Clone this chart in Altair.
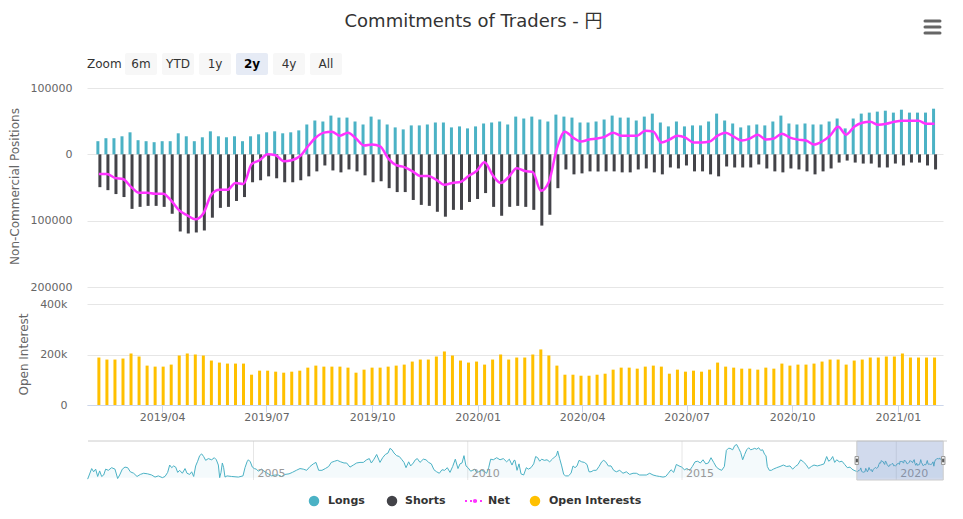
import altair as alt
import pandas as pd

# ---------------- data ----------------
week_start = "2019-02-05"          # weekly COT report dates (Tuesdays)
n_weeks = 105
view_start = "2019-01-30"
view_end = "2021-02-05"

longs_k = [19.8, 24.3, 24.3, 27.2, 33.2, 21.3, 19.8, 18.3, 19.8, 19.8,
           31.7, 27.2, 19.8, 25.7, 34.7, 27.2, 25.7, 27.2, 19.8, 27.2,
           30.2, 33.2, 34.7, 31.7, 33.2, 36.1, 45.0, 51.0, 49.5, 58.4,
           55.4, 55.4, 49.5, 45.0, 56.9, 52.5, 45.0, 40.6, 37.6, 43.6,
           43.6, 45.0, 48.0, 48.0, 40.6, 42.1, 39.1, 42.1, 46.5, 48.0,
           49.5, 45.0, 56.9, 54.0, 56.9, 52.5, 49.5, 59.9, 56.9, 55.4,
           48.0, 48.0, 49.5, 52.5, 58.4, 55.4, 55.4, 51.0, 56.9, 61.4,
           48.0, 42.1, 49.5, 42.1, 43.6, 43.6, 49.5, 61.4, 51.0, 46.5,
           40.6, 43.6, 45.0, 43.6, 49.5, 58.4, 46.5, 45.0, 46.5, 45.0,
           45.0, 49.5, 54.0, 39.1, 54.0, 61.4, 62.9, 64.4, 65.8, 62.9,
           67.3, 62.9, 62.9, 62.9, 68.8]

shorts_k = [-49.5, -54.0, -59.9, -64.4, -82.2, -79.2, -77.7, -77.7, -79.2, -89.6,
            -116.3, -119.3, -117.8, -114.8, -95.5, -80.7, -79.2, -70.3, -64.4, -42.1,
            -39.1, -33.2, -36.1, -42.1, -42.1, -39.1, -33.2, -25.7, -16.8, -24.3,
            -27.2, -22.8, -25.7, -31.7, -42.1, -40.6, -51.0, -56.9, -56.9, -68.8,
            -76.2, -77.7, -86.6, -94.0, -83.7, -83.7, -71.8, -67.3, -58.4, -79.2,
            -92.6, -79.2, -77.7, -79.2, -83.7, -107.4, -91.1, -51.0, -22.8, -30.2,
            -28.7, -25.7, -25.7, -25.7, -25.7, -27.2, -27.2, -22.8, -21.3, -27.2,
            -30.2, -19.8, -21.3, -16.8, -25.7, -25.7, -30.2, -33.2, -18.3, -19.8,
            -19.8, -19.8, -15.3, -21.3, -25.7, -27.2, -21.3, -22.8, -25.7, -30.2,
            -25.7, -21.3, -12.4, -9.4, -12.4, -13.9, -13.9, -19.8, -19.8, -13.9,
            -16.8, -12.4, -12.4, -16.8, -22.8]

net_k = [-29.7, -29.7, -35.6, -37.2, -49.0, -57.9, -57.9, -59.4, -59.4, -69.8,
         -84.6, -92.1, -98.0, -89.1, -60.8, -53.5, -53.5, -43.1, -44.6, -14.9,
         -8.9, 0.0, -1.4, -10.4, -8.9, -3.0, 11.8, 25.3, 32.7, 34.1,
         28.2, 32.6, 23.8, 13.3, 14.8, 11.9, -6.0, -16.3, -19.3, -25.2,
         -32.6, -32.7, -38.6, -46.0, -43.1, -41.6, -32.7, -25.2, -11.9, -31.2,
         -43.1, -34.2, -20.8, -25.2, -26.8, -54.9, -41.6, 8.9, 34.1, 25.2,
         19.3, 22.3, 23.8, 26.8, 32.7, 28.2, 28.2, 28.2, 35.6, 34.2,
         17.8, 22.3, 28.2, 25.3, 17.9, 17.9, 19.3, 28.2, 32.7, 26.7,
         20.8, 23.8, 29.7, 22.3, 23.8, 31.2, 25.2, 22.2, 20.8, 14.8,
         19.3, 28.2, 41.6, 29.7, 41.6, 47.5, 49.0, 44.6, 46.0, 49.0,
         50.5, 50.5, 50.5, 46.1, 46.0]

oi_k = [188, 180, 180, 184, 204, 192, 156, 152, 152, 160,
        196, 204, 200, 196, 176, 168, 164, 164, 164, 120,
        136, 136, 132, 128, 132, 136, 148, 156, 152, 152,
        152, 148, 128, 140, 148, 148, 152, 156, 160, 172,
        180, 180, 192, 212, 196, 176, 168, 172, 160, 180,
        200, 180, 188, 188, 200, 220, 196, 156, 120, 120,
        116, 116, 120, 124, 140, 148, 148, 144, 152, 156,
        152, 124, 140, 132, 136, 132, 140, 168, 152, 148,
        144, 144, 140, 148, 144, 164, 156, 160, 160, 164,
        172, 180, 180, 160, 176, 180, 188, 188, 192, 192,
        204, 188, 188, 188, 188]

# navigator history of longs (decimal year, thousands), before the weekly window
nav_years = [
    2001.130, 2001.224, 2001.270, 2001.317, 2001.364, 2001.410, 2001.457, 2001.504, 2001.550, 2001.613,
    2001.690, 2001.768, 2001.830, 2001.877, 2001.939, 2002.001, 2002.064, 2002.126, 2002.204, 2002.282,
    2002.359, 2002.437, 2002.530, 2002.624, 2002.702, 2002.779, 2002.873, 2002.935, 2002.997, 2003.044,
    2003.091, 2003.137, 2003.184, 2003.231, 2003.277, 2003.340, 2003.402, 2003.448, 2003.511, 2003.557,
    2003.604, 2003.651, 2003.697, 2003.744, 2003.791, 2003.837, 2003.884, 2003.946, 2004.024, 2004.086,
    2004.133, 2004.180, 2004.211, 2004.242, 2004.273, 2004.304, 2004.335, 2004.382, 2004.491, 2004.646,
    2004.755, 2004.802, 2004.849, 2004.880, 2004.926, 2004.973, 2005.020, 2005.066, 2005.113, 2005.191,
    2005.269, 2005.346, 2005.424, 2005.502, 2005.580, 2005.658, 2005.735, 2005.829, 2005.907, 2006.000,
    2006.085, 2006.163, 2006.241, 2006.318, 2006.396, 2006.458, 2006.521, 2006.598, 2006.676, 2006.754,
    2006.816, 2006.894, 2006.956, 2007.034, 2007.112, 2007.174, 2007.252, 2007.330, 2007.407, 2007.485,
    2007.563, 2007.641, 2007.703, 2007.750, 2007.812, 2007.874, 2007.952, 2008.014, 2008.076, 2008.139,
    2008.185, 2008.232, 2008.279, 2008.341, 2008.403, 2008.465, 2008.512, 2008.559, 2008.621, 2008.668,
    2008.730, 2008.777, 2008.823, 2008.885, 2008.963, 2009.025, 2009.088, 2009.150, 2009.212, 2009.274,
    2009.337, 2009.399, 2009.461, 2009.523, 2009.586, 2009.648, 2009.710, 2009.772, 2009.819, 2009.866,
    2009.912, 2009.959, 2010.006, 2010.068, 2010.115, 2010.161, 2010.208, 2010.255, 2010.317, 2010.379,
    2010.441, 2010.488, 2010.535, 2010.597, 2010.675, 2010.753, 2010.830, 2010.908, 2010.970, 2011.033,
    2011.079,
    2011.103, 2011.150, 2011.196, 2011.243, 2011.305, 2011.367, 2011.414, 2011.476, 2011.539, 2011.585,
    2011.632, 2011.679, 2011.725, 2011.788, 2011.850, 2011.912, 2011.974, 2012.021, 2012.068, 2012.099,
    2012.145, 2012.192, 2012.239, 2012.285, 2012.348, 2012.410, 2012.457, 2012.503, 2012.550, 2012.597,
    2012.659, 2012.721, 2012.783, 2012.830, 2012.877, 2012.939, 2013.001, 2013.063, 2013.126, 2013.172,
    2013.219, 2013.281, 2013.343, 2013.406, 2013.468, 2013.546, 2013.623, 2013.701, 2013.779, 2013.857,
    2013.935, 2014.012, 2014.090, 2014.168, 2014.246, 2014.324, 2014.401, 2014.479, 2014.557, 2014.619,
    2014.681, 2014.744, 2014.806, 2014.868, 2014.930, 2014.993, 2015.055, 2015.117, 2015.179, 2015.241,
    2015.304, 2015.366, 2015.428, 2015.490, 2015.553, 2015.615, 2015.677, 2015.739, 2015.802, 2015.864,
    2015.926, 2015.988, 2016.035, 2016.081,
    2016.120, 2016.182, 2016.229, 2016.276, 2016.322, 2016.369, 2016.416, 2016.462, 2016.509, 2016.556,
    2016.602, 2016.649, 2016.696, 2016.742, 2016.789, 2016.836, 2016.882, 2016.929, 2016.960, 2016.991,
    2017.038, 2017.085, 2017.131, 2017.209, 2017.287, 2017.365, 2017.442, 2017.520, 2017.582, 2017.645,
    2017.707, 2017.769, 2017.831, 2017.894, 2017.956, 2018.018, 2018.080, 2018.158, 2018.236, 2018.314,
    2018.376, 2018.423, 2018.469, 2018.516, 2018.563, 2018.609, 2018.672, 2018.734, 2018.796, 2018.858,
    2018.921, 2018.967, 2019.014]

nav_longs_k = [
    -5, 31, 20, 29, 4, 23, 4, 9, 29, 25,
    34, 29, -3, 9, 29, 36, 34, 20, 15, 4,
    11, 15, 13, 9, 2, 6, 0, 4, 18, 43,
    34, 40, 36, 18, 25, 15, 31, 15, 11, 20,
    4, 40, 56, 75, 81, 72, 59, 65, 61, 68,
    61, 43, 0, 18, 50, 34, 2, 6, 4, 2,
    6, 34, 54, 61, 54, 36, 31, 29, 22, 29,
    20, 13, 6, 9, 9, 4, 11, 13, 18, 25,
    31, 29, 25, 38, 47, 52, 25, 25, 31, 38,
    52, 56, 59, 54, 50, 50, 36, 43, 50, 52,
    52, 61, 65, 50, 63, 79, 52, 68, 79, 84,
    100, 95, 84, 75, 72, 61, 52, 34, 54, 40,
    50, 61, 65, 52, 63, 61, 52, 47, 27, 20,
    15, 27, 25, 34, 18, 38, 63, 31, 47, 50,
    75, 40, 34, 22, 25, 29, 18, 20, 25, 22,
    15, 34, 63, 61, 68, 61, 65, 54, 63, 43,
    59,
    59, 25, 47, 13, 9, 34, 29, 34, 47, 72,
    68, 56, 63, 59, 61, 54, 63, 70, 75, 91,
    65, 40, 11, 6, 6, 15, 40, 34, 40, 59,
    54, 52, 45, 20, 20, 25, 25, 38, 54, 59,
    54, 40, 40, 25, 20, 25, 15, 20, 11, 15,
    15, 9, 9, 9, 15, 9, 6, 4, 2, 4,
    15, 27, 18, 45, 40, 36, 27, 31, 25, 38,
    54, 56, 50, 61, 47, 50, 68, 52, 36, 29,
    25, 38, 93, 100,
    100, 95, 109, 113, 100, 86, 61, 79, 95, 102,
    95, 97, 100, 97, 102, 93, 95, 79, 75, 38,
    25, 25, 29, 34, 38, 43, 38, 40, 29, 38,
    45, 61, 54, 45, 31, 38, 43, 40, 43, 47,
    72, 56, 61, 72, 52, 61, 54, 56, 45, 34,
    36, 29, 25]

x_ticks = ["2019-04-01", "2019-07-01", "2019-10-01", "2020-01-01",
           "2020-04-01", "2020-07-01", "2020-10-01", "2021-01-01"]
nav_ticks = [2005, 2010, 2015, 2020]
nav_domain = [2001.138, 2021.184]
buttons = ["6m", "YTD", "1y", "2y", "4y", "All"]
selected_button = "2y"
title_text = "Commitments of Traders - 円"

# ---------------- style ----------------
FONT = "DejaVu Sans"
TITLE_FONT = "DejaVu Sans, Noto Sans CJK JP"
C_LONG = "#4bb2c5"
C_SHORT = "#434348"
C_NET = "#ff33ff"
C_OI = "#ffc000"
GRID = "#e6e6e6"
LABEL = "#666666"

W, H = 856, 317


def dt(s):
    y, m, d = (int(p) for p in s.split("-"))
    return alt.DateTime(year=y, month=m, date=d, utc=True)


def dec_year(ts):
    ts = pd.Timestamp(ts)
    return ts.year + (ts.dayofyear - 1) / (366 if ts.is_leap_year else 365)


dates = pd.date_range(week_start, periods=n_weeks, freq="7D")
df = pd.DataFrame({
    "date": dates.strftime("%Y-%m-%d"),
    "longs": [v * 1000 for v in longs_k],
    "shorts": [v * 1000 for v in shorts_k],
    "net": [v * 1000 for v in net_k],
    "oi": [v * 1000 for v in oi_k],
})

nav_df = pd.DataFrame({
    "yr": list(nav_years) + [dec_year(d) for d in dates],
    "v": list(nav_longs_k) + list(longs_k),
})
sel_df = pd.DataFrame({"a": [dec_year(view_start)], "b": [dec_year(view_end)]})
handle_df = pd.DataFrame({"h": [dec_year(view_start), dec_year(view_end)]})
tick_df = pd.DataFrame({"t": nav_ticks})
one = pd.DataFrame({"k": [0]})

# ---------------- scales / axes ----------------
x_scale = alt.Scale(type="utc", domain=[dt(view_start), dt(view_end)])
top_scale = alt.Scale(domain=[-200000, 100000], range=[199, 0], nice=False)
oi_scale = alt.Scale(domain=[0, 400000], range=[317, 216], nice=False)
nav_x = alt.Scale(domain=nav_domain, range=[1, 860], nice=False, zero=False)
nav_y = alt.Scale(domain=[-8, 125], range=[392, 353], nice=False, zero=False)

top_axis = alt.Axis(
    orient="left", values=[-200000, -100000, 0, 100000],
    labelExpr="format(abs(datum.value), 'd')",
    grid=True, gridColor=GRID, domain=False, ticks=False, labelPadding=15,
    labelColor=LABEL, labelFontSize=11, labelFont=FONT,
    title="Non-Commercial Positions", titleColor=LABEL, titleFontSize=12,
    titleFont=FONT, titleFontWeight="normal", titleX=-73, titleY=98,
    titleAngle=270, titleAlign="center", titleBaseline="middle")

oi_axis = alt.Axis(
    orient="left", values=[0, 200000, 400000],
    labelExpr="datum.value == 0 ? '0' : format(datum.value / 1000, 'd') + 'k'",
    grid=True, gridColor=GRID, domain=False, ticks=False, labelPadding=20,
    labelColor=LABEL, labelFontSize=11, labelFont=FONT,
    title="Open Interest", titleColor=LABEL, titleFontSize=12,
    titleFont=FONT, titleFontWeight="normal", titleX=-64, titleY=266,
    titleAngle=270, titleAlign="center", titleBaseline="middle")

x_axis = alt.Axis(
    values=[dt(t) for t in x_ticks],
    labelExpr="utcFormat(datum.value, '%Y/%m')",
    grid=False, domain=True, domainColor="#ccd6eb", ticks=True,
    tickColor="#ccd6eb", tickSize=7, labelPadding=-1, labelColor=LABEL,
    labelFontSize=11, labelFont=FONT, title=None, labelFlush=False)

X_main = alt.X("date:T", scale=x_scale, axis=None)

# ---------------- top pane ----------------
longs_bar = alt.Chart(df).mark_bar(size=3, color=C_LONG, xOffset=-1).encode(
    x=X_main, y=alt.Y("longs:Q", scale=top_scale, axis=top_axis))
shorts_bar = alt.Chart(df).mark_bar(size=3, color=C_SHORT, xOffset=1).encode(
    x=X_main, y=alt.Y("shorts:Q", scale=top_scale, axis=top_axis))
net_line = alt.Chart(df).mark_line(color=C_NET, strokeWidth=2.5,
                                   interpolate="monotone").encode(
    x=X_main, y=alt.Y("net:Q", scale=top_scale, axis=top_axis))
top_layer = alt.layer(longs_bar, shorts_bar, net_line)

# ---------------- open interest pane ----------------
oi_bar = alt.Chart(df).mark_bar(size=3, color=C_OI).encode(
    x=alt.X("date:T", scale=x_scale, axis=x_axis),
    y=alt.Y("oi:Q", scale=oi_scale, axis=oi_axis))

# ---------------- navigator ----------------
NX = lambda f: alt.X(f, scale=nav_x, axis=None)
nav_grid = alt.Chart(tick_df).mark_rule(color="#e6e6e6").encode(
    x=NX("t:Q"), y=alt.value(353), y2=alt.value(392))
nav_area = alt.Chart(nav_df).mark_area(fill=C_LONG, fillOpacity=0.06, strokeWidth=0).encode(
    x=NX("yr:Q"), y=alt.Y("v:Q", scale=nav_y, axis=None), y2=alt.value(392))
nav_line = alt.Chart(nav_df).mark_line(color=C_LONG, strokeWidth=1).encode(
    x=NX("yr:Q"), y=alt.Y("v:Q", scale=nav_y, axis=None))
nav_labels = alt.Chart(tick_df).mark_text(
    align="left", baseline="alphabetic", dx=4, fontSize=11, color="#999999",
    font=FONT).encode(x=NX("t:Q"), y=alt.value(389), text=alt.Text("t:Q", format="d"))
nav_top = alt.Chart(one).mark_rule(color="#cccccc").encode(
    x=alt.value(1), x2=alt.value(860), y=alt.value(353))
nav_mask = alt.Chart(sel_df).mark_rect(fill="#6685c2", fillOpacity=0.3,
                                       stroke="#cccccc", strokeWidth=1).encode(
    x=NX("a:Q"), x2="b:Q", y=alt.value(353), y2=alt.value(392))
nav_handles = alt.Chart(handle_df).mark_point(
    shape="M-0.22,-0.5H0.22V0.5H-0.22Z", size=256, filled=True,
    color="#f2f2f2", stroke="#999999", strokeWidth=1, opacity=1).encode(
    x=NX("h:Q"), y=alt.value(372.5))
nav_grips = alt.Chart(handle_df).mark_point(
    shape="M-0.06,-0.22V0.22M0.06,-0.22V0.22", size=256, filled=False,
    stroke="#444444", strokeWidth=1, opacity=1).encode(
    x=NX("h:Q"), y=alt.value(372.5))
nav_layer = alt.layer(nav_grid, nav_area, nav_line, nav_labels, nav_top,
                      nav_mask, nav_handles, nav_grips)

# ---------------- decorations: title, zoom buttons, menu, legend ----------------
deco = []
deco.append(alt.Chart(one).mark_text(
    text=title_text, fontSize=18, font=TITLE_FONT, color="#333333",
    align="center", baseline="middle").encode(x=alt.value(386.5), y=alt.value(-66)))
deco.append(alt.Chart(one).mark_text(
    text="Zoom", fontSize=12, font=FONT, color="#333333",
    align="left", baseline="middle").encode(x=alt.value(0), y=alt.value(-24)))
for i, b in enumerate(buttons):
    x0 = 38 + 37 * i
    sel = b == selected_button
    deco.append(alt.Chart(one).mark_rect(
        fill="#e6ebf5" if sel else "#f7f7f7", cornerRadius=2).encode(
        x=alt.value(x0), x2=alt.value(x0 + 32), y=alt.value(-35), y2=alt.value(-13)))
    deco.append(alt.Chart(one).mark_text(
        text=b, fontSize=12, font=FONT, color="#000000" if sel else "#333333",
        fontWeight="bold" if sel else "normal",
        align="center", baseline="middle").encode(x=alt.value(x0 + 16), y=alt.value(-24)))
for yy in (-67, -61, -55):
    deco.append(alt.Chart(one).mark_rule(
        color="#666666", strokeWidth=3, strokeCap="round").encode(
        x=alt.value(838), x2=alt.value(853), y=alt.value(yy)))

LEG_Y = 413
for cx, tx, name, col in [(227, 241, "Longs", C_LONG), (305, 318, "Shorts", C_SHORT),
                          (448, 462, "Open Interests", C_OI)]:
    deco.append(alt.Chart(one).mark_point(
        shape="circle", filled=True, size=110, color=col, opacity=1).encode(
        x=alt.value(cx), y=alt.value(LEG_Y)))
    deco.append(alt.Chart(one).mark_text(
        text=name, fontSize=11, font=FONT, fontWeight="bold", color="#333333",
        align="left", baseline="middle").encode(x=alt.value(tx), y=alt.value(LEG_Y)))
deco.append(alt.Chart(one).mark_rule(
    color=C_NET, strokeWidth=2, strokeDash=[2, 3]).encode(
    x=alt.value(378), x2=alt.value(398), y=alt.value(LEG_Y)))
deco.append(alt.Chart(one).mark_point(
    shape="circle", filled=True, size=18, color=C_NET, opacity=1).encode(
    x=alt.value(388), y=alt.value(LEG_Y)))
deco.append(alt.Chart(one).mark_text(
    text="Net", fontSize=11, font=FONT, fontWeight="bold", color="#333333",
    align="left", baseline="middle").encode(x=alt.value(401), y=alt.value(LEG_Y)))

chart = alt.layer(top_layer, oi_bar, nav_layer, *deco).resolve_scale(
    x="independent", y="independent"
).properties(
    width=W, height=H,
    autosize=alt.AutoSizeParams(type="none"),
    padding={"left": 79, "top": 80, "right": 10, "bottom": 102},
    background="white",
).configure_view(strokeWidth=0)

chart.save("out.html", embed_options={"renderer": "svg", "actions": False})
